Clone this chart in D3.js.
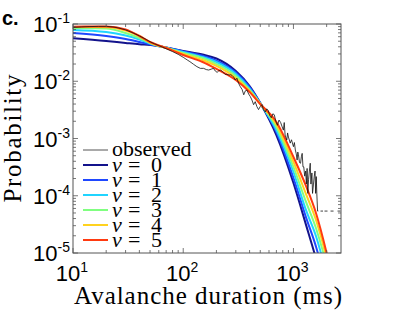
<!DOCTYPE html>
<html>
<head>
<meta charset="utf-8">
<script src="https://cdn.jsdelivr.net/npm/d3@7"></script>
<style>
  body { margin: 0; background: #fff; }
  svg { display: block; }
</style>
</head>
<body>
<div id="chart"></div>
<script>
const durations = [10, 20, 30, 40, 50, 60, 70, 100, 150, 200, 300, 400, 500, 700, 1000, 1300, 1600, 2000, 2500];

// model probabilities, one list per v
const v0 = [0.0563, 0.0505, 0.0466, 0.0442, 0.0430, 0.0413, 0.0388, 0.0338, 0.0293, 0.0250, 0.0151, 0.00826, 0.00417, 0.00115, 1.67e-4, 3.1e-5, 8e-6, 1.5e-6, 2e-7];
const v1 = [0.0696, 0.0617, 0.0547, 0.0485, 0.0438, 0.0409, 0.0388, 0.0331, 0.0278, 0.0230, 0.0142, 0.00794, 0.00417, 0.00130, 2.04e-4, 4.2e-5, 1.3e-5, 2.5e-6, 3e-7];
const v2 = [0.0786, 0.0725, 0.0630, 0.0536, 0.0456, 0.0413, 0.0387, 0.0324, 0.0265, 0.0217, 0.0134, 0.00747, 0.00409, 0.00141, 2.60e-4, 5.6e-5, 1.98e-5, 4e-6, 5e-7];
const v3 = [0.0851, 0.0834, 0.0696, 0.0570, 0.0466, 0.0413, 0.0384, 0.0311, 0.0255, 0.0200, 0.0124, 0.00703, 0.00409, 0.00159, 3.18e-4, 7.8e-5, 2.73e-5, 6e-6, 8e-7];
const v4 = [0.0886, 0.0880, 0.0770, 0.0617, 0.0475, 0.0416, 0.0381, 0.0299, 0.0235, 0.0185, 0.0114, 0.00676, 0.0040, 0.00176, 3.89e-4, 1.07e-4, 3.8e-5, 8e-6, 1e-6];
const v5 = [0.0897, 0.0904, 0.0801, 0.0617, 0.0485, 0.0421, 0.0381, 0.0287, 0.0217, 0.0164, 0.0105, 0.00649, 0.0040, 0.00194, 4.75e-4, 1.48e-4, 5.0e-5, 1.0e-5, 1.5e-6];

const modelSeries = [v0, v1, v2, v3, v4, v5];
const modelLabels = ["0", "1", "2", "3", "4", "5"];
const modelColours = ["#13138c", "#1f48ff", "#20d4ff", "#80ff80", "#ffd21f", "#ff3a10"];

// observed histogram [duration ms, probability], 0 = empty bin
const observed = [
  [10, 0.087], [12, 0.089], [14, 0.090], [17, 0.091], [20, 0.091], [23, 0.089], [26, 0.085],
  [30, 0.079], [35, 0.070], [40, 0.062], [45, 0.055], [50, 0.049], [55, 0.045], [60, 0.042],
  [70, 0.037], [80, 0.033], [90, 0.0295], [100, 0.0262], [110, 0.0232], [115, 0.0220],
  [124, 0.0198], [133, 0.0180], [143, 0.0168], [153, 0.0168], [162, 0.0160], [170, 0.0157],
  [180, 0.0163], [188, 0.0168], [196, 0.0150], [203, 0.0143], [210, 0.0152], [218, 0.0157],
  [225, 0.0150], [233, 0.0140], [240, 0.0132], [250, 0.0132], [260, 0.0128], [270, 0.0130],
  [278, 0.0126], [287, 0.0118], [296, 0.0105], [307, 0.0113], [318, 0.0092], [330, 0.0080],
  [342, 0.0072], [354, 0.0058], [366, 0.0068], [379, 0.0070], [392, 0.0060], [406, 0.0054],
  [420, 0.0047], [435, 0.0039], [450, 0.0044], [466, 0.0036], [482, 0.0032], [499, 0.0036],
  [517, 0.0039], [535, 0.0032], [555, 0.0029], [572, 0.0033], [590, 0.0031], [610, 0.0025],
  [630, 0.0023], [650, 0.0027], [670, 0.0026], [692, 0.0020], [715, 0.0017], [740, 0.0021],
  [765, 0.0019], [790, 0.0016], [810, 0.0014], [825, 0.0019], [840, 0.00115], [870, 0.00094],
  [885, 0.00125], [900, 0.00106], [935, 0.00083], [960, 0.00095], [1000, 0.00072],
  [1020, 0.00085], [1040, 0.00063], [1060, 0.00054], [1080, 0.00042], [1095, 0.00058],
  [1110, 0.00052], [1135, 0.00038], [1160, 0.00037], [1180, 0.00048], [1200, 0.00055],
  [1220, 0.00032], [1240, 0.00032], [1265, 0.00022], [1290, 0.00027], [1310, 0.00016],
  [1330, 0.00030], [1350, 0.00011], [1370, 0.00019], [1395, 0.00027], [1420, 0.00037],
  [1440, 0.00016], [1470, 0.00025], [1490, 0.00011], [1520, 0.00016], [1545, 0.00022],
  [1570, 0.00027], [1590, 0.00011], [1610, 0.000216], [1630, 0.000108], [1655, 0.000054],
  [1680, 0.000054], [1700, 0], [1760, 0.000054], [1854, 0.000054], [1880, 0],
  [1913, 0.000054], [2037, 0.000054], [2100, 0], [2170, 0.000054], [2310, 0.000054],
  [2400, 0], [2512, 0.000054], [2673, 0.000054]
];

const xDecades = [10, 100, 1000];
const yDecades = [1e-5, 1e-4, 1e-3, 1e-2, 1e-1];

const width = 407, height = 320;
const plot = {left: 73, right: 341, top: 24, bottom: 253};

const svg = d3.select("#chart").append("svg")
    .attr("width", width)
    .attr("height", height);

const x = d3.scaleLog().domain([10, 2700]).range([plot.left, plot.right]);
const y = d3.scaleLog().domain([1e-5, 1e-1]).range([plot.bottom, plot.top]);

svg.append("clipPath").attr("id", "plotClip")
    .append("rect")
    .attr("x", plot.left).attr("y", plot.top)
    .attr("width", plot.right - plot.left)
    .attr("height", plot.bottom - plot.top);

// model curves
const curveLine = d3.line()
    .x(d => x(d[0]))
    .y(d => y(d[1]))
    .curve(d3.curveMonotoneX);

const curves = svg.append("g").attr("clip-path", "url(#plotClip)");
modelSeries.forEach((vals, i) => {
    curves.append("path")
        .datum(durations.map((t, j) => [t, vals[j]]))
        .attr("d", curveLine)
        .attr("fill", "none")
        .attr("stroke", modelColours[i])
        .attr("stroke-width", 2);
});

// observed
const obsLine = d3.line()
    .defined(d => d[1] > 0)
    .x(d => x(d[0]))
    .y(d => y(d[1]));

curves.append("path")
    .datum(observed)
    .attr("d", obsLine)
    .attr("fill", "none")
    .attr("stroke", "#111")
    .attr("stroke-width", 0.8);

// box + ticks on all sides
const axisCol = "#555";
svg.append("rect")
    .attr("x", plot.left).attr("y", plot.top)
    .attr("width", plot.right - plot.left)
    .attr("height", plot.bottom - plot.top)
    .attr("fill", "none")
    .attr("stroke", axisCol)
    .attr("stroke-width", 1);

const isMajor = v => Math.abs(Math.log10(v) - Math.round(Math.log10(v))) < 1e-9;
const ticks = svg.append("g").attr("stroke", axisCol).attr("stroke-width", 0.8);

x.ticks().forEach(t => {
    const len = isMajor(t) ? 5 : 3;
    const px = x(t);
    ticks.append("line").attr("x1", px).attr("x2", px).attr("y1", plot.bottom).attr("y2", plot.bottom - len);
    ticks.append("line").attr("x1", px).attr("x2", px).attr("y1", plot.top).attr("y2", plot.top + len);
});
y.ticks().forEach(t => {
    const len = isMajor(t) ? 5 : 3;
    const py = y(t);
    ticks.append("line").attr("y1", py).attr("y2", py).attr("x1", plot.left).attr("x2", plot.left + len);
    ticks.append("line").attr("y1", py).attr("y2", py).attr("x1", plot.right).attr("x2", plot.right - len);
});

// tick labels
const tickFont = "'Liberation Sans', Arial, sans-serif";
xDecades.forEach(t => {
    const lbl = svg.append("text")
        .attr("x", x(t) - 1)
        .attr("y", 281)
        .attr("text-anchor", "middle")
        .attr("font-family", tickFont)
        .attr("font-size", 22);
    lbl.append("tspan").text("10");
    lbl.append("tspan").attr("dy", -9).attr("font-size", 14).text(Math.round(Math.log10(t)));
});
yDecades.forEach(t => {
    const lbl = svg.append("text")
        .attr("x", 70)
        .attr("y", y(t) + 8)
        .attr("text-anchor", "end")
        .attr("font-family", tickFont)
        .attr("font-size", 22);
    lbl.append("tspan").text("10");
    lbl.append("tspan").attr("dy", -9).attr("font-size", 14).text("-" + Math.abs(Math.round(Math.log10(t))));
});

// axis titles
const serif = "'Liberation Serif', 'Times New Roman', serif";
svg.append("text")
    .attr("x", 208)
    .attr("y", 304)
    .attr("text-anchor", "middle")
    .attr("font-family", serif)
    .attr("font-size", 25)
    .attr("textLength", 268)
    .attr("lengthAdjust", "spacing")
    .text("Avalanche duration (ms)");

svg.append("text")
    .attr("transform", "translate(21," + ((plot.top + plot.bottom) / 2) + ") rotate(-90)")
    .attr("text-anchor", "middle")
    .attr("font-family", serif)
    .attr("font-size", 25)
    .attr("textLength", 128)
    .attr("lengthAdjust", "spacing")
    .text("Probability");

// panel letter
svg.append("text")
    .attr("x", 2)
    .attr("y", 25)
    .attr("font-family", tickFont)
    .attr("font-weight", "bold")
    .attr("font-size", 20)
    .text("c.");

// legend
const legend = svg.append("g");
const legendY = 150, rowH = 15;
legend.append("line")
    .attr("x1", 83).attr("x2", 108)
    .attr("y1", legendY).attr("y2", legendY)
    .attr("stroke", "#555").attr("stroke-width", 1);
legend.append("text")
    .attr("x", 112).attr("y", legendY + 6)
    .attr("font-family", serif).attr("font-size", 22)
    .text("observed");

modelLabels.forEach((lab, i) => {
    const ly = legendY + rowH * (i + 1);
    legend.append("line")
        .attr("x1", 83).attr("x2", 108)
        .attr("y1", ly).attr("y2", ly)
        .attr("stroke", modelColours[i]).attr("stroke-width", 2);
    const t = legend.append("text")
        .attr("y", ly + 7)
        .attr("font-family", serif).attr("font-size", 22);
    t.append("tspan").attr("x", 112).attr("font-style", "italic").text("v");
    t.append("tspan").attr("x", 128).text("=");
    t.append("tspan").attr("x", 151).text(lab);
});
</script>
</body>
</html>
